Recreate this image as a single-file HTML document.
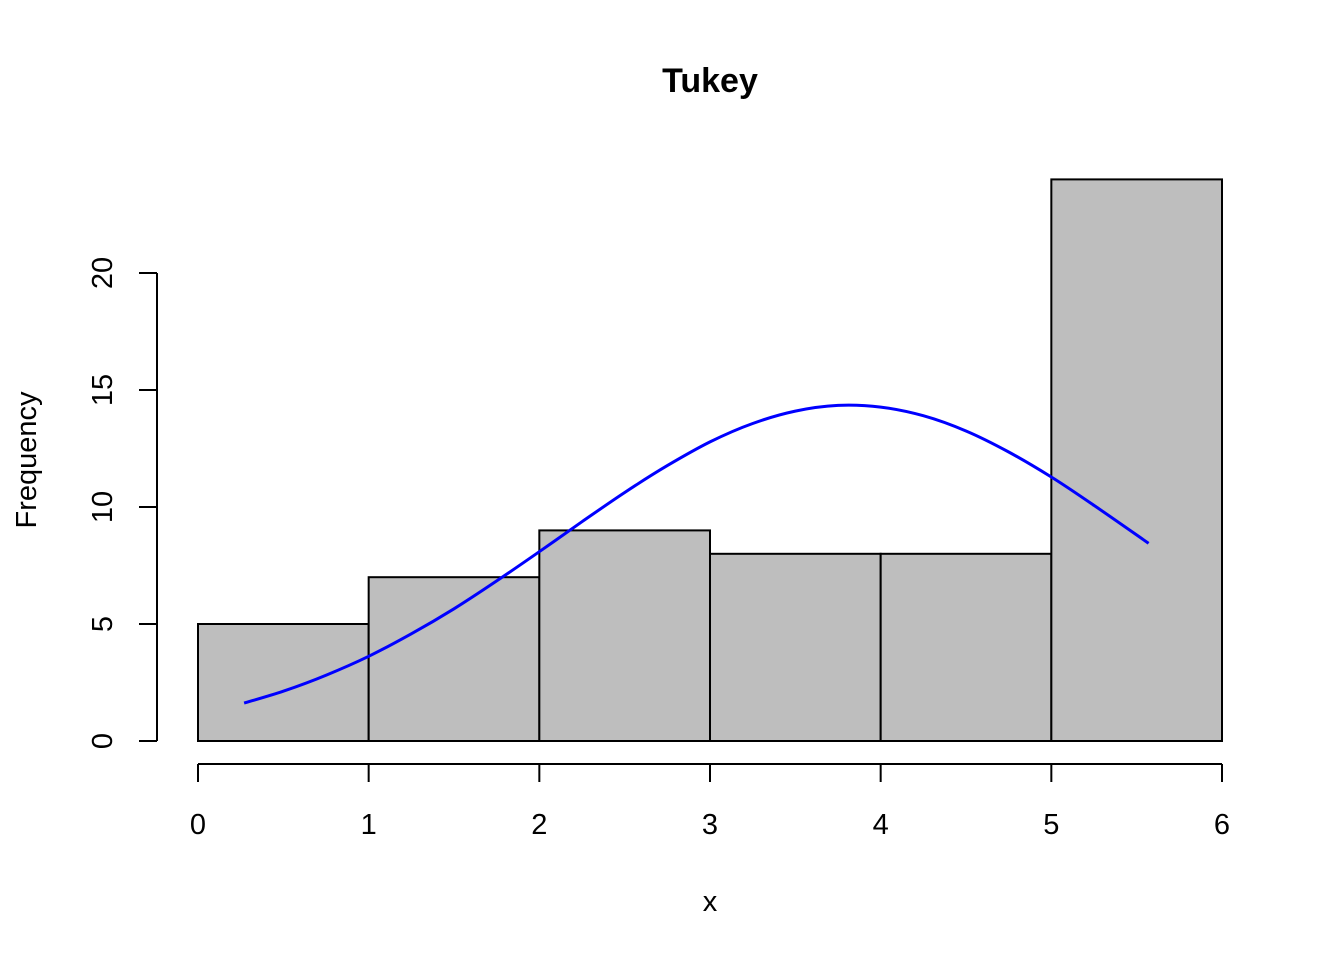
<!DOCTYPE html>
<html><head><meta charset="utf-8"><style>html,body{margin:0;padding:0;background:#fff}svg{display:block}text{font-family:"Liberation Sans",Arial,sans-serif;fill:#000}</style></head>
<body>
<svg id="chart" width="1344" height="960" viewBox="0 0 1344 960" xmlns="http://www.w3.org/2000/svg">
<text x="710" y="92" text-anchor="middle" font-size="34" font-weight="bold">Tukey</text>
<text x="710" y="911" text-anchor="middle" font-size="29">x</text>
<text transform="translate(36,460) rotate(-90)" text-anchor="middle" font-size="29">Frequency</text>
<g id="bars"></g>
<g id="xaxis"></g>
<g id="yaxis"></g>
<path id="curve" fill="none" stroke="#0000ff" stroke-width="3"/>
</svg>
<script>
const binEdges = [0,1,2,3,4,5,6];
const counts = [5,7,9,8,8,24];
const xTicks = [0,1,2,3,4,5,6];
const yTicks = [0,5,10,15,20];
const curveX = [0.27,0.5,0.75,1,1.25,1.5,1.75,2,2.25,2.5,2.75,3,3.25,3.5,3.75,4,4.25,4.5,4.75,5,5.25,5.57];
const curveY = [1.62,2.13,2.81,3.62,4.58,5.65,6.84,8.09,9.37,10.62,11.77,12.78,13.57,14.10,14.34,14.27,13.90,13.25,12.35,11.28,10.07,8.45];
const NS='http://www.w3.org/2000/svg';
const sx = v => 198 + v*(1222-198)/6;
const sy = v => 741 - v*23.4;
function mk(tag, attrs, parent){const e=document.createElementNS(NS,tag);for(const k in attrs)e.setAttribute(k,attrs[k]);parent.appendChild(e);return e;}
const bars=document.getElementById('bars');
counts.forEach((c,i)=>{
  const r=mk('rect',{x:sx(binEdges[i]),y:sy(c),width:sx(binEdges[i+1])-sx(binEdges[i]),height:sy(0)-sy(c),fill:'#bebebe',stroke:'#000','stroke-width':2},bars);
  
  
});
const xa=document.getElementById('xaxis');
mk('line',{x1:sx(xTicks[0]),x2:sx(xTicks[xTicks.length-1]),y1:764,y2:764,stroke:'#000','stroke-width':2},xa);
xTicks.forEach(t=>{
  mk('line',{x1:sx(t),x2:sx(t),y1:764,y2:782,stroke:'#000','stroke-width':2},xa);
  const tx=mk('text',{x:sx(t),y:834,'text-anchor':'middle','font-size':29},xa);
  tx.textContent=t;
  
  
});
const ya=document.getElementById('yaxis');
mk('line',{x1:157,x2:157,y1:sy(yTicks[yTicks.length-1]),y2:sy(yTicks[0]),stroke:'#000','stroke-width':2},ya);
yTicks.forEach(t=>{
  mk('line',{x1:139,x2:157,y1:sy(t),y2:sy(t),stroke:'#000','stroke-width':2},ya);
  const tx=mk('text',{transform:`translate(112,${sy(t)}) rotate(-90)`,'text-anchor':'middle','font-size':29},ya);
  tx.textContent=t;
  
  
});
// smooth Catmull-Rom through the read points
const P=curveX.map((x,i)=>[sx(x),sy(curveY[i])]);
let d='M'+P[0][0].toFixed(1)+','+P[0][1].toFixed(1);
for(let i=0;i<P.length-1;i++){
  const p0=P[Math.max(0,i-1)],p1=P[i],p2=P[i+1],p3=P[Math.min(P.length-1,i+2)];
  const c1=[p1[0]+(p2[0]-p0[0])/6,p1[1]+(p2[1]-p0[1])/6];
  const c2=[p2[0]-(p3[0]-p1[0])/6,p2[1]-(p3[1]-p1[1])/6];
  d+=`C${c1[0].toFixed(1)},${c1[1].toFixed(1)} ${c2[0].toFixed(1)},${c2[1].toFixed(1)} ${p2[0].toFixed(1)},${p2[1].toFixed(1)}`;
}
document.getElementById('curve').setAttribute('d',d);
</script>
</body></html>
